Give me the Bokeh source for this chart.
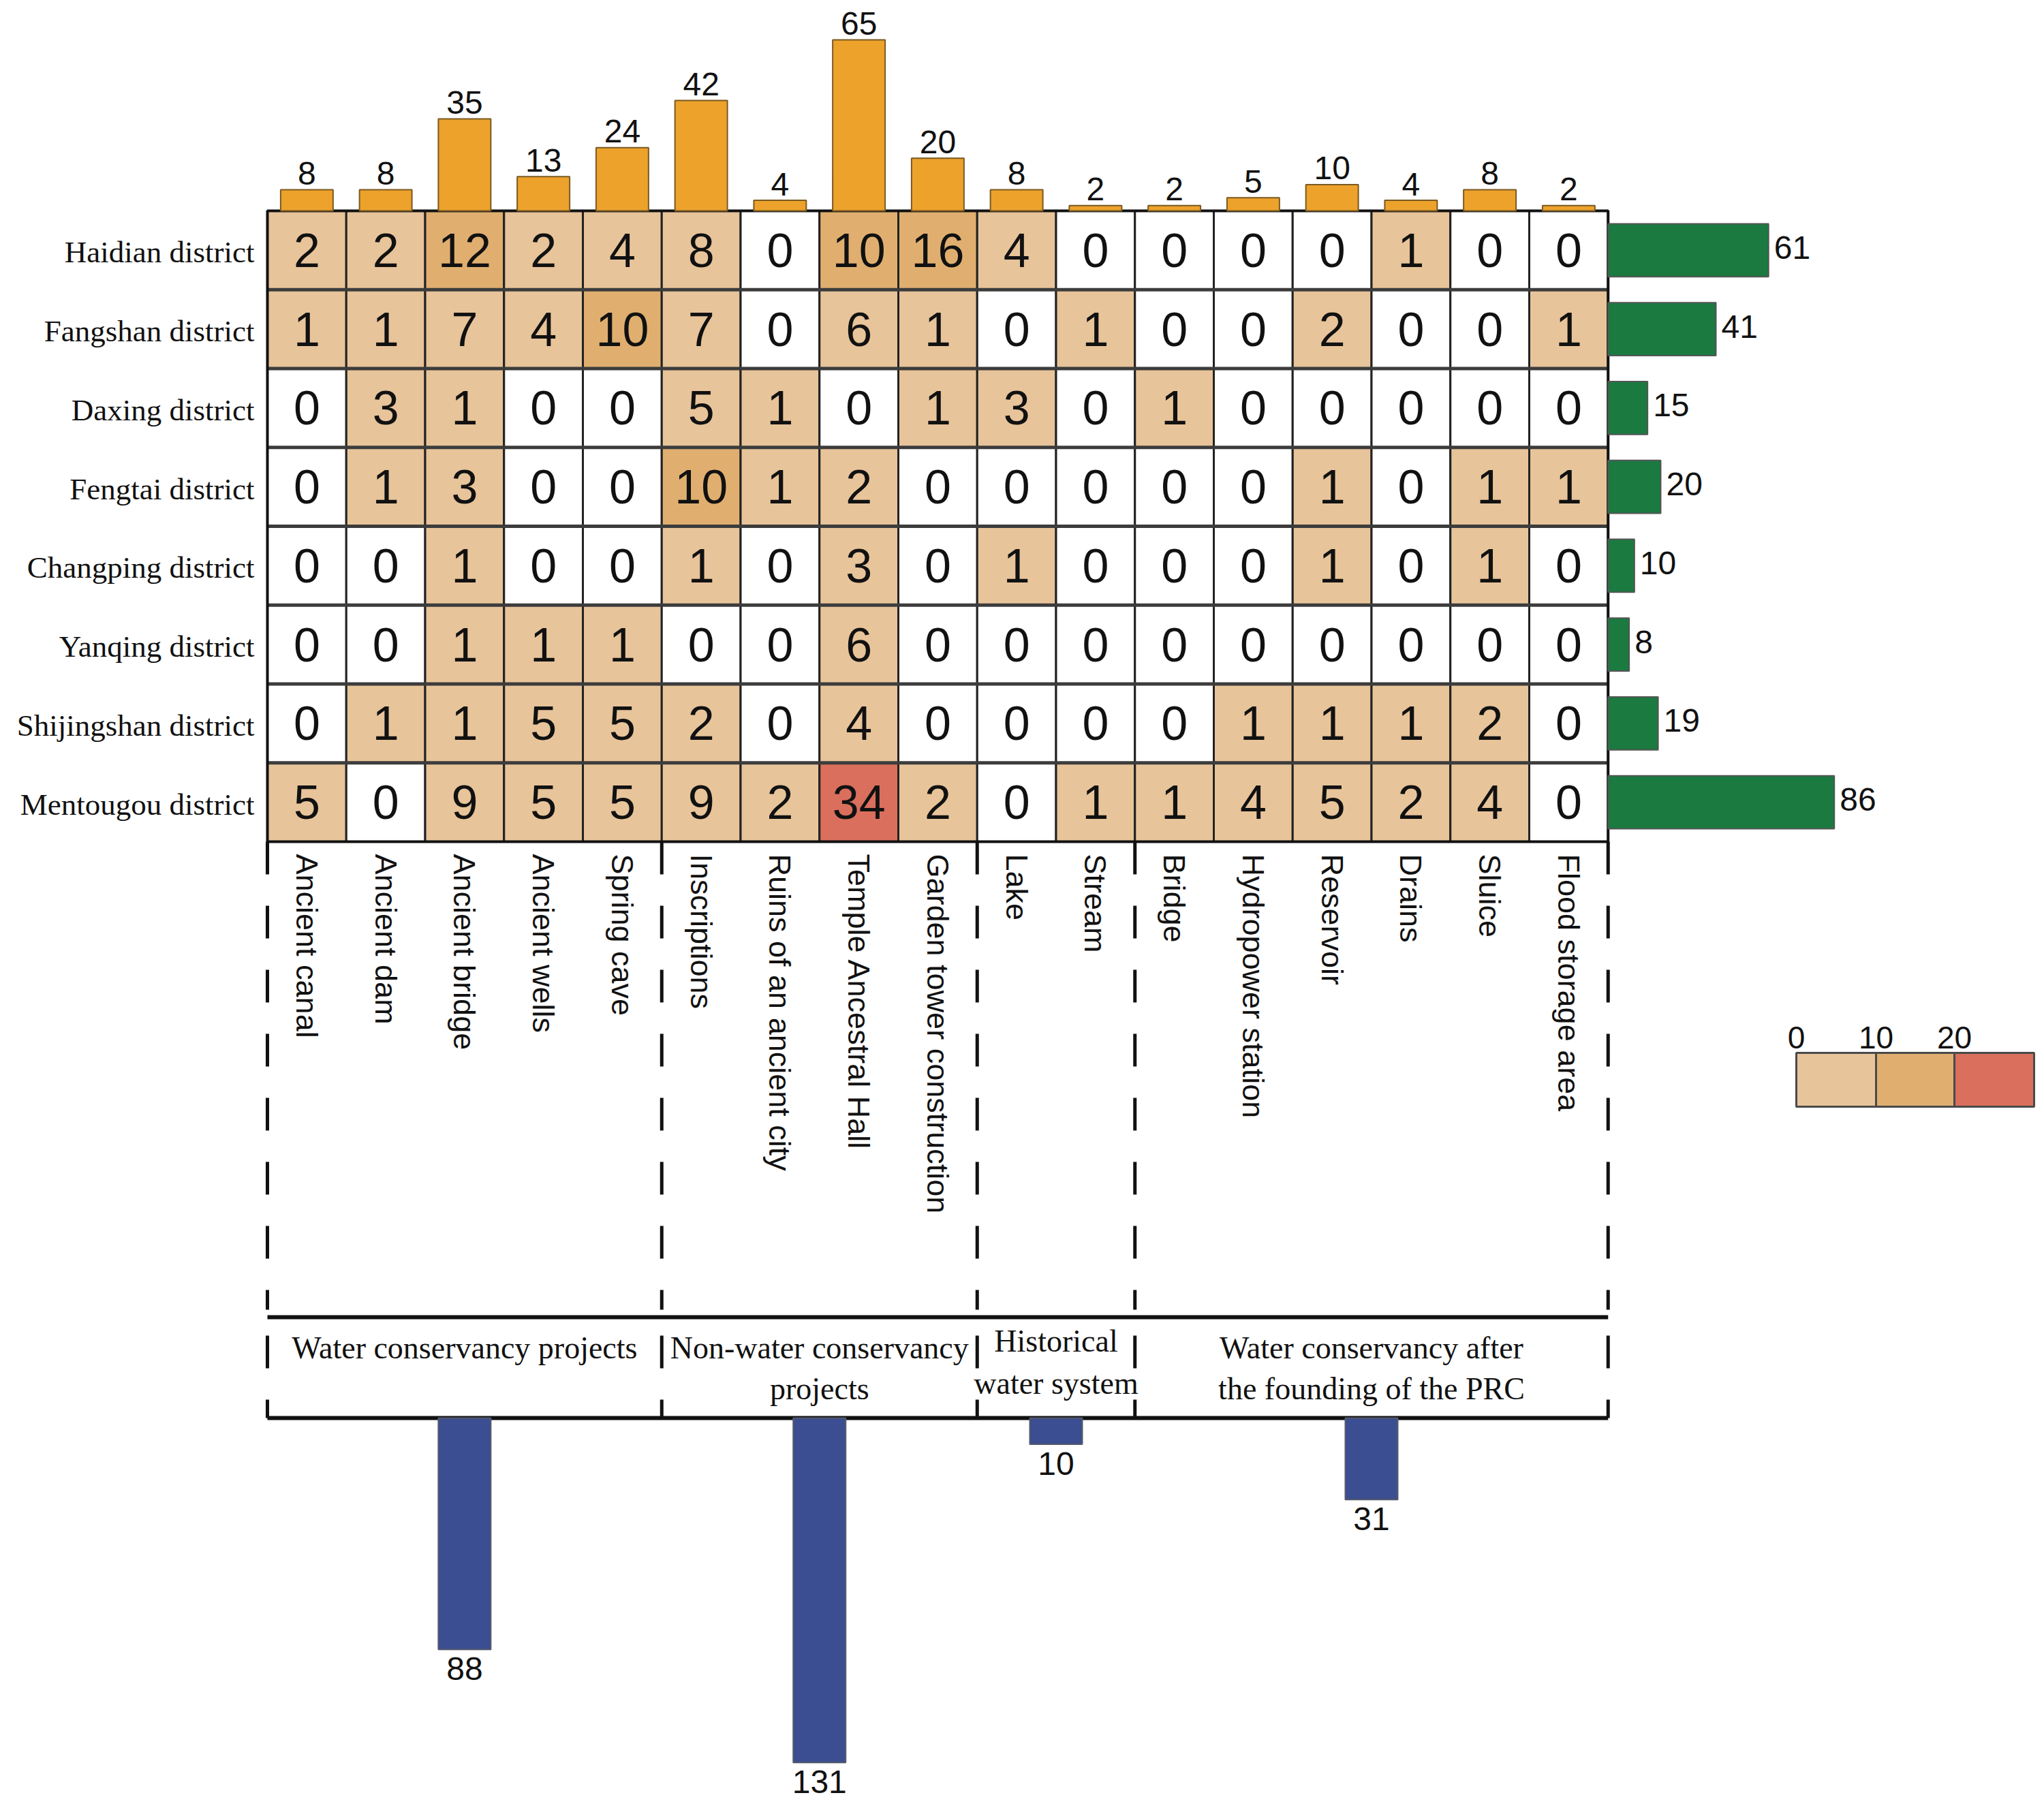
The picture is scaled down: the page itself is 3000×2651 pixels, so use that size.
from bokeh.plotting import figure
from bokeh.models import Range1d
from bokeh.embed import file_html
from bokeh.resources import INLINE
from bokeh.core.properties import value
import math

# ---------------- data ----------------
categories = ["Ancient canal", "Ancient dam", "Ancient bridge", "Ancient wells", "Spring cave",
              "Inscriptions", "Ruins of an ancient city", "Temple Ancestral Hall",
              "Garden tower construction", "Lake", "Stream", "Bridge", "Hydropower station",
              "Reservoir", "Drains", "Sluice", "Flood storage area"]
districts = ["Haidian district", "Fangshan district", "Daxing district", "Fengtai district",
             "Changping district", "Yanqing district", "Shijingshan district", "Mentougou district"]
haidian     = [2, 2, 12, 2, 4, 8, 0, 10, 16, 4, 0, 0, 0, 0, 1, 0, 0]
fangshan    = [1, 1, 7, 4, 10, 7, 0, 6, 1, 0, 1, 0, 0, 2, 0, 0, 1]
daxing      = [0, 3, 1, 0, 0, 5, 1, 0, 1, 3, 0, 1, 0, 0, 0, 0, 0]
fengtai     = [0, 1, 3, 0, 0, 10, 1, 2, 0, 0, 0, 0, 0, 1, 0, 1, 1]
changping   = [0, 0, 1, 0, 0, 1, 0, 3, 0, 1, 0, 0, 0, 1, 0, 1, 0]
yanqing     = [0, 0, 1, 1, 1, 0, 0, 6, 0, 0, 0, 0, 0, 0, 0, 0, 0]
shijingshan = [0, 1, 1, 5, 5, 2, 0, 4, 0, 0, 0, 0, 1, 1, 1, 2, 0]
mentougou   = [5, 0, 9, 5, 5, 9, 2, 34, 2, 0, 1, 1, 4, 5, 2, 4, 0]
matrix = [haidian, fangshan, daxing, fengtai, changping, yanqing, shijingshan, mentougou]

category_totals = [8, 8, 35, 13, 24, 42, 4, 65, 20, 8, 2, 2, 5, 10, 4, 8, 2]
district_totals = [61, 41, 15, 20, 10, 8, 19, 86]

group_lines = [["Water conservancy projects"],
               ["Non-water conservancy", "projects"],
               ["Historical", "water system"],
               ["Water conservancy after", "the founding of the PRC"]]
group_sizes = [5, 4, 2, 6]
group_totals = [88, 131, 10, 31]

legend_ticks = [0, 10, 20]

# ---------------- styling / layout ----------------
W, H = 2992, 2643
CELL = 115.75
HM_LEFT, HM_TOP = 392.0, 309.0
NC, NR = len(categories), len(districts)
HM_BOTTOM = HM_TOP + NR * CELL
BAR_PX = 3.86          # pixels per count for marginal bars
BLUE_BASE = 2081.0     # px of the blue bars' baseline

C_ZERO, C_LOW, C_MID, C_HIGH = "#FFFFFF", "#E8C49A", "#E0AF70", "#D96F5C"
C_ORANGE, C_GREEN, C_BLUE = "#EDA22C", "#1A7A40", "#3A4E91"
SANS, SERIF = "Liberation Sans", "Liberation Serif"


def cell_color(v):
    if v <= 0:
        return C_ZERO
    if v < legend_ticks[1]:
        return C_LOW
    if v < legend_ticks[2]:
        return C_MID
    return C_HIGH


def DX(px):  # canvas px -> data x
    return (px - HM_LEFT) / CELL


def DY(py):  # canvas px -> data y
    return (HM_BOTTOM - py) / CELL


p = figure(width=W, height=H, output_backend="svg", toolbar_location=None,
           x_range=Range1d(-HM_LEFT / CELL, (W - HM_LEFT) / CELL),
           y_range=Range1d(-(H - HM_BOTTOM) / CELL, NR + HM_TOP / CELL),
           x_axis_location=None, y_axis_location=None, min_border=0)
p.grid.visible = False
p.outline_line_color = None
p.background_fill_color = "white"
p.border_fill_color = "white"

p.extra_y_ranges = {
    "top": Range1d(-(H - HM_TOP) / BAR_PX, HM_TOP / BAR_PX),
    "bottom": Range1d((H - BLUE_BASE) / BAR_PX, -BLUE_BASE / BAR_PX),
}
p.extra_x_ranges = {
    "right": Range1d(-(HM_LEFT + NC * CELL) / BAR_PX, (W - HM_LEFT - NC * CELL) / BAR_PX),
}

# ---------------- heatmap ----------------
xs, ys, cols, txt = [], [], [], []
for i, row in enumerate(matrix):
    for j, v in enumerate(row):
        xs.append(j + 0.5)
        ys.append(NR - i - 0.5)
        cols.append(cell_color(v))
        txt.append(str(v))
p.rect(x=xs, y=ys, width=1, height=1, fill_color=cols, line_color="#222222", line_width=3)
p.segment(x0=[0] * (NR - 1), x1=[NC] * (NR - 1), y0=list(range(1, NR)), y1=list(range(1, NR)),
          line_color="#3c3c3c", line_width=5)
p.quad(left=[0], right=[NC], bottom=[0], top=[NR], fill_color=None, line_color="#111111", line_width=4)
p.text(x=xs, y=ys, text=txt, text_align="center", text_baseline="middle",
       text_font=value(SANS), text_font_size=value("70px"), text_color="#111111")

# row labels
p.text(x=[DX(373)] * NR, y=[NR - i - 0.5 for i in range(NR)], text=districts,
       text_align="right", text_baseline="middle", y_offset=3,
       text_font=value(SERIF), text_font_size=value("45px"), text_color="#111111")

# ---------------- top bars ----------------
cx = [j + 0.5 for j in range(NC)]
p.vbar(x=cx, top=category_totals, bottom=0, width=0.665, y_range_name="top",
       fill_color=C_ORANGE, line_color="#7a5a22", line_width=2)
p.text(x=cx, y=category_totals, text=[str(v) for v in category_totals], y_range_name="top",
       text_align="center", text_baseline="middle", y_offset=-24,
       text_font=value(SANS), text_font_size=value("48px"), text_color="#111111")

# ---------------- right bars ----------------
ry = [NR - i - 0.5 for i in range(NR)]
p.hbar(y=ry, right=district_totals, left=0, height=0.67, x_range_name="right",
       fill_color=C_GREEN, line_color="#555555", line_width=2)
p.text(x=district_totals, y=ry, text=[str(v) for v in district_totals], x_range_name="right",
       text_align="left", text_baseline="middle", x_offset=8, y_offset=-4,
       text_font=value(SANS), text_font_size=value("48px"), text_color="#111111")

# ---------------- column labels ----------------
p.text(x=cx, y=[DY(1253)] * NC, text=categories, angle=-math.pi / 2,
       text_align="left", text_baseline="middle",
       text_font=value(SANS), text_font_size=value("45px"), text_color="#111111")

# ---------------- group structure ----------------
bounds = [0]
for s in group_sizes:
    bounds.append(bounds[-1] + s)
nb = len(bounds)
p.segment(x0=bounds, x1=bounds, y0=[0] * nb, y1=[DY(1922)] * nb,
          line_color="#111111", line_width=5, line_dash="48 46")
p.segment(x0=bounds, x1=bounds, y0=[DY(1960)] * nb, y1=[DY(2081)] * nb,
          line_color="#111111", line_width=5, line_dash="48 46")
p.segment(x0=[0, 0], x1=[NC, NC], y0=[DY(1933), DY(2081)], y1=[DY(1933), DY(2081)],
          line_color="#111111", line_width=6)

gc = [(bounds[k] + bounds[k + 1]) / 2 for k in range(len(group_sizes))]
line_mid = [[1978], [1978, 2038], [1968, 2030], [1978, 2038]]
gx, gy, gt = [], [], []
for k, lines in enumerate(group_lines):
    for t, ym in zip(lines, line_mid[k]):
        gx.append(gc[k])
        gy.append(DY(ym))
        gt.append(t)
p.text(x=gx, y=gy, text=gt, text_align="center", text_baseline="middle",
       text_font=value(SERIF), text_font_size=value("46px"), text_color="#111111")

# blue bars
p.vbar(x=gc, top=group_totals, bottom=0, width=0.665, y_range_name="bottom",
       fill_color=C_BLUE, line_color="#55596a", line_width=2)
p.text(x=gc, y=group_totals, text=[str(v) for v in group_totals], y_range_name="bottom",
       text_align="center", text_baseline="middle", y_offset=28,
       text_font=value(SANS), text_font_size=value("48px"), text_color="#111111")

# ---------------- legend ----------------
lx = [DX(2636), DX(2753), DX(2868), DX(2985)]
p.quad(left=lx[:3], right=lx[1:], bottom=[DY(1624)] * 3, top=[DY(1545)] * 3,
       fill_color=[C_LOW, C_MID, C_HIGH], line_color="#4a4a4a", line_width=3)
p.text(x=lx[:3], y=[DY(1522)] * 3, text=[str(v) for v in legend_ticks],
       text_align="center", text_baseline="middle",
       text_font=value(SANS), text_font_size=value("46px"), text_color="#111111")

open("out.html", "w").write(file_html(p, INLINE))
